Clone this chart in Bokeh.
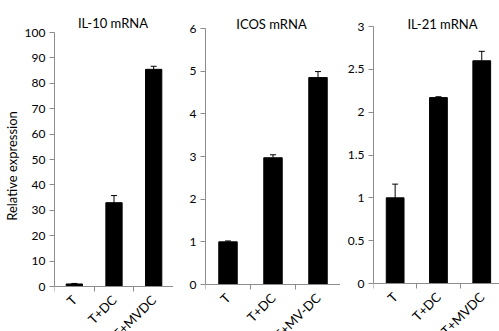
from bokeh.plotting import figure
from bokeh.layouts import row
from bokeh.models import (Range1d, FixedTicker, ColumnDataSource, Whisker, TeeHead, Label,
                          LinearAxis)
from bokeh.embed import file_html
from bokeh.resources import INLINE
import math

# ---- data ----
titles = ["IL-10 mRNA", "ICOS mRNA", "IL-21 mRNA"]
cats_il10 = ["T", "T+DC", "T+MVDC"]
cats_icos = ["T", "T+DC", "T+MV-DC"]
cats_il21 = ["T", "T+DC", "T+MVDC"]
vals_il10 = [1.0, 33.0, 85.5]
errs_il10 = [0.2, 2.8, 1.2]
vals_icos = [1.0, 2.97, 4.85]
errs_icos = [0.02, 0.07, 0.14]
vals_il21 = [1.0, 2.17, 2.60]
errs_il21 = [0.16, 0.01, 0.11]
yticks_il10 = [0, 10, 20, 30, 40, 50, 60, 70, 80, 90, 100]
yticks_icos = [0, 1, 2, 3, 4, 5, 6]
yticks_il21 = [0, 0.5, 1, 1.5, 2, 2.5, 3]
ylabel = "Relative expression"

FONT = "Lato"
AXIS_COLOR = "#8c8c8c"
TEXT_COLOR = "#000000"
T0 = 0      # page offset of figure top
H = 331     # figure height


def panel(cats, vals, errs, yticks, title, width, border_left, top_px, zero_px,
          cat_px, title_cx, title_cy, ylab=None):
    n = len(cats)
    centers = [i + 0.5 for i in range(n)]
    ymax = yticks[-1]
    scale = (zero_px - top_px) / ymax
    y_end = ymax + (top_px - T0) / scale
    y_start = -(T0 + H - zero_px) / scale
    x_end = (width - border_left) / cat_px
    p = figure(width=width, height=H, output_backend="svg", toolbar_location=None,
               x_range=Range1d(0, x_end), y_range=Range1d(y_start, y_end),
               x_axis_location=None, y_axis_location=None,
               min_border_left=border_left, min_border_right=0,
               min_border_top=0, min_border_bottom=0)
    p.outline_line_color = None
    p.grid.visible = False
    p.background_fill_color = "white"
    p.border_fill_color = "white"

    src = ColumnDataSource(dict(x=centers, top=vals, up=[v + e for v, e in zip(vals, errs)]))
    p.vbar(x="x", top="top", bottom=0, width=0.41, source=src,
           fill_color="black", line_color="black")
    p.add_layout(Whisker(source=src, base="x", lower="top", upper="up",
                         line_color="black", line_width=1,
                         lower_head=None,
                         upper_head=TeeHead(size=6, line_color="black", line_width=1)))

    xa = LinearAxis(fixed_location=0)
    xa.ticker = FixedTicker(ticks=centers, minor_ticks=list(range(n + 1)))
    xa.major_label_overrides = {c: lab for c, lab in zip(centers, cats)}
    xa.major_label_orientation = math.pi / 4
    xa.major_label_text_font = FONT
    xa.major_label_text_font_size = "13px"
    xa.major_label_text_color = TEXT_COLOR
    xa.major_label_standoff = 6
    xa.bounds = (0, n)
    xa.major_tick_out = 0
    xa.major_tick_in = 0
    xa.minor_tick_out = 5
    xa.minor_tick_in = 0
    xa.axis_line_color = AXIS_COLOR
    xa.minor_tick_line_color = AXIS_COLOR
    p.add_layout(xa, "below")

    ya = LinearAxis()
    ya.ticker = FixedTicker(ticks=yticks)
    ya.bounds = (0, ymax)
    ya.major_tick_out = 5
    ya.major_tick_in = 0
    ya.minor_tick_out = 0
    ya.major_label_standoff = 4
    ya.axis_line_color = AXIS_COLOR
    ya.major_tick_line_color = AXIS_COLOR
    ya.major_label_text_font = FONT
    ya.major_label_text_font_size = "12px"
    ya.major_label_text_color = TEXT_COLOR
    if ylab:
        ya.axis_label = ylab
        ya.axis_label_text_font = FONT
        ya.axis_label_text_font_size = "13px"
        ya.axis_label_text_font_style = "normal"
        ya.axis_label_text_color = TEXT_COLOR
        ya.axis_label_standoff = 2
    p.add_layout(ya, "left")

    # title: centred at a given pixel position relative to the frame
    p.add_layout(Label(x=(title_cx - border_left) / cat_px, y=ymax,
                       y_offset=top_px - title_cy, text=title,
                       text_align="center", text_baseline="middle",
                       text_font=FONT, text_font_size="13px", text_color=TEXT_COLOR))
    return p


p1 = panel(cats_il10, vals_il10, errs_il10, yticks_il10, titles[0],
           width=173, border_left=53, top_px=32, zero_px=286, cat_px=40,
           title_cx=112, title_cy=22, ylab=ylabel)
p2 = panel(cats_icos, vals_icos, errs_icos, yticks_icos, titles[1],
           width=167, border_left=32, top_px=28, zero_px=284, cat_px=45,
           title_cx=271 - 173, title_cy=23)
p3 = panel(cats_il21, vals_il21, errs_il21, yticks_il21, titles[2],
           width=159, border_left=33, top_px=26, zero_px=283, cat_px=43.3,
           title_cx=442 - 340, title_cy=23)

layout = row(p1, p2, p3)
open("out.html", "w").write(file_html(layout, INLINE))
